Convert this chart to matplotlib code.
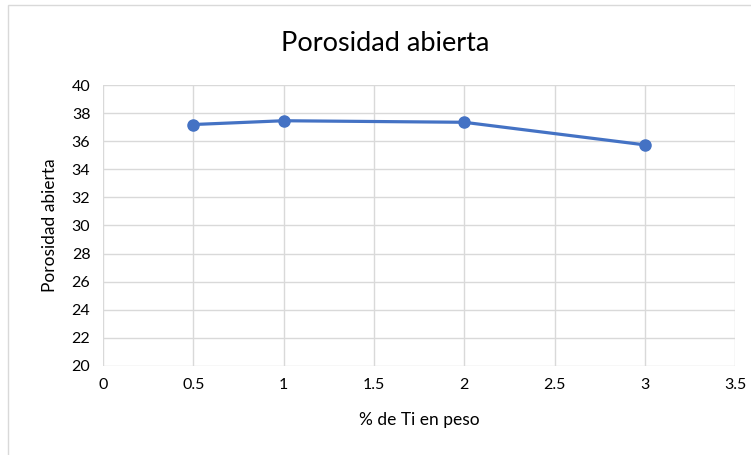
import matplotlib.pyplot as plt
from matplotlib.patches import Rectangle

ti_pct = [0.5, 1, 2, 3]
porosidad = [37.19, 37.46, 37.35, 35.74]
x_ticks = [0, 0.5, 1, 1.5, 2, 2.5, 3, 3.5]
y_ticks = list(range(20, 41, 2))

plt.rcParams['font.family'] = ['Lato', 'DejaVu Sans']

fig = plt.figure(figsize=(7.51, 4.55), dpi=100)
ax = fig.add_axes([0.137, 0.196, 0.842, 0.617])

# outer chart frame
fig.patches.append(Rectangle((0.011, -0.01), 1.0, 1.0, transform=fig.transFigure,
                             fill=False, edgecolor='#d9d9d9', linewidth=1))

ax.plot(ti_pct, porosidad, color='#4472c4', linewidth=2.3, marker='o',
        markersize=8, zorder=3)

ax.set_xlim(0, 3.5)
ax.set_ylim(20, 40)
ax.set_xticks(x_ticks)
ax.set_xticklabels([f'{t:g}' for t in x_ticks])
ax.set_yticks(y_ticks)
ax.grid(True, color='#d9d9d9', linewidth=1)
ax.set_axisbelow(True)
for s in ax.spines.values():
    s.set_visible(False)
ax.tick_params(length=0, labelsize=11.5, colors='#000000', pad=9)

ax.set_xlabel('% de Ti en peso', fontsize=12.5, labelpad=14)
ax.set_ylabel('Porosidad abierta', fontsize=12.5, labelpad=10)
fig.text(0.513, 0.905, 'Porosidad abierta', ha='center', va='center', fontsize=19.5)

fig.savefig('out.png', dpi=100)
